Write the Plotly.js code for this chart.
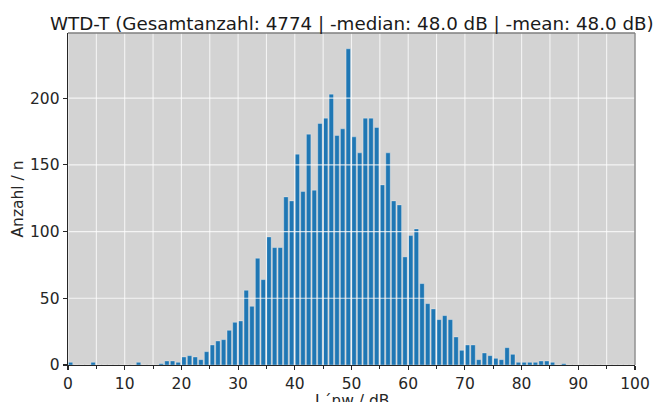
<!DOCTYPE html>
<html>
<head>
<meta charset="utf-8">
<script src="https://cdn.plot.ly/plotly-3.0.1.min.js"></script>
<style>html,body{margin:0;padding:0;background:#fff;}#chart{width:654px;height:402px;}</style>
</head>
<body>
<div id="chart"></div>
<script>
// Histogram bins (lower edge, dB) and counts
const binStart = [];
for (let k = 0; k < 100; k++) binStart.push(k);
const counts = [
  2,0,0,0,2,0,0,0,0,0,
  0,0,2,0,0,0,1,3,3,2,
  6,7,6,4,10,15,18,19,26,32,
  33,56,44,80,64,96,88,88,126,123,
  158,130,173,131,181,185,203,172,177,237,
  171,159,185,185,178,135,159,123,120,81,
  97,102,61,46,42,34,37,34,21,11,
  15,15,4,9,7,5,4,13,8,2,
  2,2,2,3,3,2,0,1,0,0,
  0,0,0,0,0,0,0,0,0,0
];
const xTickVals = [0,10,20,30,40,50,60,70,80,90,100];
const xGridVals = [0,5,10,15,20,25,30,35,40,45,50,55,60,65,70,75,80,85,90,95,100];
const yTickVals = [0,50,100,150,200];
const titleText = 'WTD-T (Gesamtanzahl: 4774 | -median: 48.0 dB | -mean: 48.0 dB)';
const xTitle = 'L´nw / dB';
const yTitle = 'Anzahl / n';

const yMax = Math.max(...counts) * 1.05;
const font = 'DejaVu Sans, sans-serif';

const shapes = [];
xGridVals.forEach(v => shapes.push({type:'line', xref:'x', yref:'paper', x0:v, x1:v, y0:0, y1:1, layer:'above',
  line:{color:'rgba(255,255,255,0.75)', width:1.1}}));
yTickVals.filter(v => v > 0).forEach(v => shapes.push({type:'line', xref:'paper', yref:'y', x0:0, x1:1, y0:v, y1:v, layer:'above',
  line:{color:'rgba(255,255,255,0.75)', width:1.1}}));
// frame (top/right gray)
shapes.push({type:'line', xref:'paper', yref:'paper', x0:0, x1:1, y0:1, y1:1, layer:'above', line:{color:'#7f7f7f', width:1.3}});
shapes.push({type:'line', xref:'paper', yref:'paper', x0:1, x1:1, y0:0, y1:1, layer:'above', line:{color:'#7f7f7f', width:1.3}});

const trace = {
  type:'bar', x: binStart, y: counts, offset: 0.05, width: 0.78,
  marker:{color:'#1f77b4', line:{color:'rgba(255,255,255,0.3)', width:1}},
  hoverinfo:'x+y'
};

const layout = {
  width:654, height:402,
  margin:{l:68, r:19, t:33, b:37, pad:0},
  paper_bgcolor:'#ffffff', plot_bgcolor:'#d3d3d3',
  showlegend:false, bargap:0,
  xaxis:{range:[0,100], tickvals:xTickVals, showgrid:false, zeroline:false,
    showline:true, linecolor:'#262626', linewidth:1.3, layer:'above traces',
    ticks:'outside', ticklen:4, tickwidth:1.1, tickcolor:'#262626',
    minor:{tickvals:xGridVals, ticks:'outside', ticklen:2.5, tickwidth:1, tickcolor:'#262626', showgrid:false},
    tickfont:{family:font, size:15.5, color:'#262626'}},
  yaxis:{range:[0,yMax], tickvals:yTickVals, showgrid:false, zeroline:false,
    showline:true, linecolor:'#262626', linewidth:1.3, layer:'above traces',
    ticks:'outside', ticklen:4, tickwidth:1.1, tickcolor:'#262626',
    tickfont:{family:font, size:15.5, color:'#262626'},
    title:{text:yTitle, font:{family:font, size:15.5, color:'#262626'}, standoff:2}},
  annotations:[
    {text:titleText, xref:'paper', yref:'paper', x:0.5, y:1.028, xanchor:'center', yanchor:'middle',
      showarrow:false, font:{family:font, size:18.3, color:'#1a1a1a'}},
    {text:xTitle, xref:'paper', yref:'paper', x:0.5, y:-0.075, xanchor:'center', yanchor:'top',
      showarrow:false, font:{family:font, size:15.5, color:'#262626'}}],
  shapes: shapes
};

Plotly.newPlot('chart', [trace], layout, {displayModeBar:false, staticPlot:true});
</script>
</body>
</html>
